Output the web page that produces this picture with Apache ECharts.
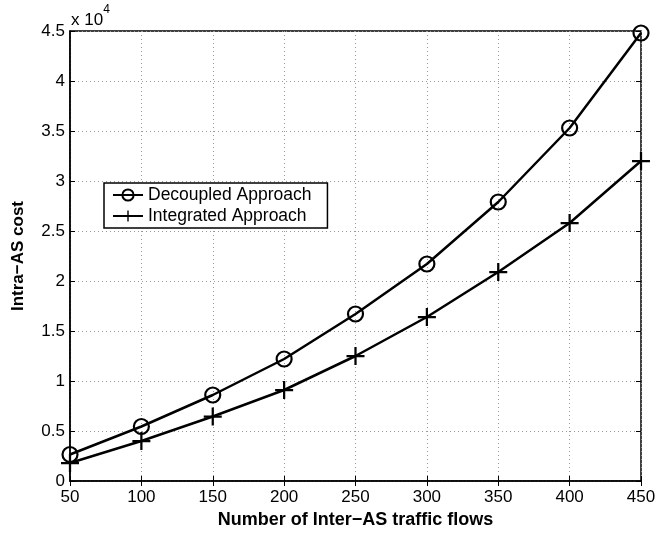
<!DOCTYPE html>
<html>
<head>
<meta charset="utf-8">
<script src="https://cdn.jsdelivr.net/npm/echarts@6/dist/echarts.min.js"></script>
<style>
  html, body { margin: 0; padding: 0; background: #fff; }
  #chart { width: 656px; height: 536px; }
</style>
</head>
<body>
<div id="chart"></div>
<script>
// flows on the x axis
var flows = [50, 100, 150, 200, 250, 300, 350, 400, 450]
// intra-AS cost values
var decoupled = [2650, 5450, 8600, 12200, 16700, 21700, 27900, 35300, 44800]
var integrated = [1800, 4000, 6450, 9100, 12500, 16400, 20900, 25800, 32000]

var FONT = 'Liberation Sans, Arial, Helvetica, sans-serif'
var PLUS = 'path://M-1,-8H1V-1H8V1H1V8H-1V1H-8V-1H-1Z'

function pairs (xs, ys) {
  return xs.map(function (x, i) { return [x, ys[i]] })
}

var chart = echarts.init(document.getElementById('chart'))

var tickInside = { show: true, inside: true, length: 5, lineStyle: { color: '#000', width: 1 } }
var gridDots = { show: true, lineStyle: { color: '#999', type: [1, 3], width: 1 } }

chart.setOption({
  animation: false,
  backgroundColor: '#fff',
  title: {
    left: 66,
    top: -1,
    text: '{a|x 10}{b|4}',
    textStyle: {
      fontWeight: 'normal',
      rich: {
        a: { fontFamily: FONT, fontSize: 17, fontWeight: 'normal', color: '#000', verticalAlign: 'bottom', padding: [8, 0, 0, 0] },
        b: { fontFamily: FONT, fontSize: 12, fontWeight: 'normal', color: '#000', verticalAlign: 'top' }
      }
    }
  },
  grid: {
    left: 70, right: 15, top: 31, bottom: 55,
    outerBoundsMode: 'none',
    containLabel: false,
    show: true, borderColor: '#000', borderWidth: 1.5
  },
  legend: {
    left: 104,
    top: 183,
    orient: 'vertical',
    itemWidth: 30,
    itemHeight: 14,
    itemGap: 3,
    padding: [3, 16, 3, 8],
    borderColor: '#000',
    borderWidth: 1.5,
    backgroundColor: '#fff',
    textStyle: { fontFamily: FONT, fontSize: 17.5, color: '#000' },
    data: ['Decoupled Approach', 'Integrated Approach']
  },
  xAxis: [{
    type: 'value', min: 50, max: 450, interval: 50,
    name: 'Number of Inter\u2212AS traffic flows',
    nameLocation: 'middle', nameGap: 30,
    nameTextStyle: { fontFamily: FONT, fontSize: 18, fontWeight: 'bold', color: '#000' },
    axisLine: { show: true, lineStyle: { color: '#000', width: 1.5 } },
    axisTick: tickInside,
    axisLabel: { fontFamily: FONT, fontSize: 17, color: '#000', margin: 8 },
    splitLine: gridDots
  }, {
    type: 'value', min: 50, max: 450, interval: 50, position: 'top',
    axisLine: { show: false }, axisTick: tickInside, axisLabel: { show: false }, splitLine: { show: false }
  }],
  yAxis: [{
    type: 'value', min: 0, max: 45000, interval: 5000,
    name: 'Intra\u2212AS cost',
    nameLocation: 'middle', nameGap: 43,
    nameTextStyle: { fontFamily: FONT, fontSize: 17, fontWeight: 'bold', color: '#000' },
    axisLine: { show: true, lineStyle: { color: '#000', width: 1.5 } },
    axisTick: tickInside,
    axisLabel: {
      fontFamily: FONT, fontSize: 17, color: '#000', margin: 5,
      formatter: function (v) { return String(v / 10000) }
    },
    splitLine: gridDots
  }, {
    type: 'value', min: 0, max: 45000, interval: 5000, position: 'right',
    axisLine: { show: false }, axisTick: tickInside, axisLabel: { show: false }, splitLine: { show: false }
  }],
  series: [{
    name: 'Decoupled Approach',
    type: 'line',
    data: pairs(flows, decoupled),
    symbol: 'circle',
    symbolSize: 15,
    showAllSymbol: true,
    lineStyle: { color: '#000', width: 2.5 },
    itemStyle: { color: 'rgba(255,255,255,0)', borderColor: '#000', borderWidth: 2.2 }
  }, {
    name: 'Integrated Approach',
    type: 'line',
    data: pairs(flows, integrated),
    symbol: PLUS,
    symbolSize: 18,
    showAllSymbol: true,
    lineStyle: { color: '#000', width: 2.5 },
    itemStyle: { color: '#000', borderWidth: 0 }
  }]
})
</script>
</body>
</html>
